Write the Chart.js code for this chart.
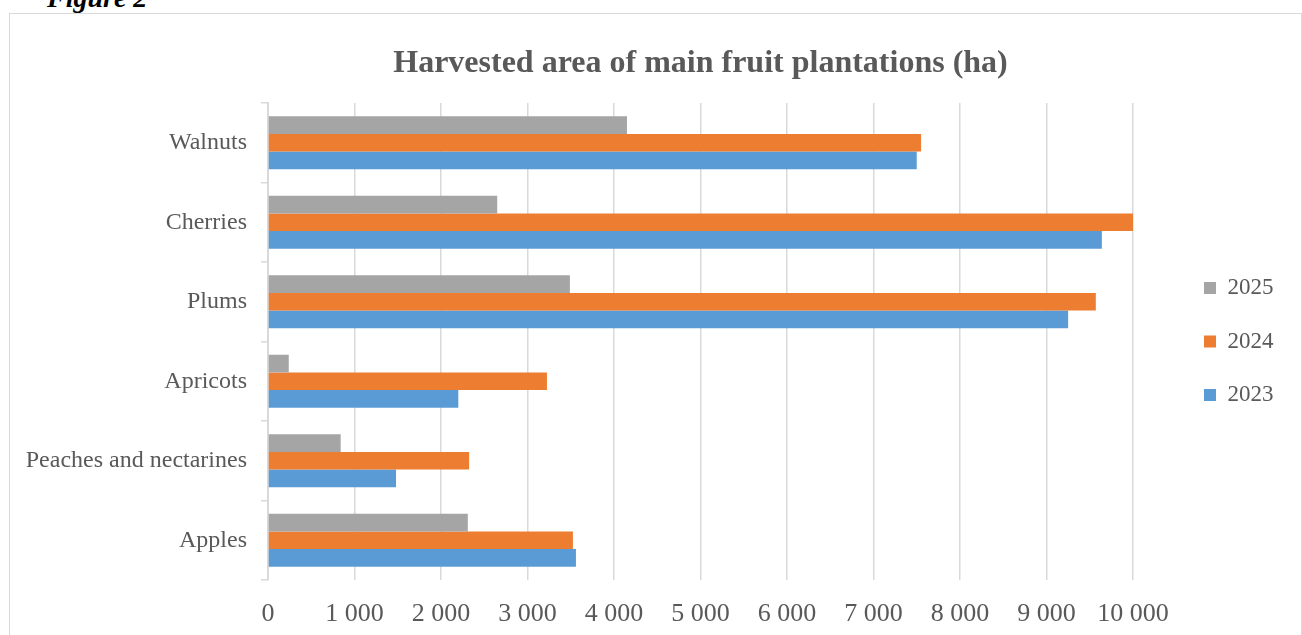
<!DOCTYPE html>
<html>
<head>
<meta charset="utf-8">
<title>Harvested area of main fruit plantations</title>
<script src="https://cdn.jsdelivr.net/npm/chart.js@4.4.1/dist/chart.umd.min.js"></script>
<style>
  html, body { margin: 0; padding: 0; background: #fff; overflow: hidden; }
  body { width: 1302px; height: 635px; position: relative; }
  .fig-label {
    position: absolute; left: 47px; top: -16px;
    font: italic bold 28px 'Liberation Serif', 'Times New Roman', serif;
    line-height: 28px; color: #000;
  }
  .frame {
    position: absolute; left: 9px; top: 13px; width: 1291px; height: 640px;
    border: 1px solid #d9d9d9;
  }
  .chart-box { position: absolute; left: 0; top: 0; width: 1291px; height: 621px; }
</style>
</head>
<body>
<div class="fig-label">Figure 2</div>
<div class="frame">
  <div class="chart-box"><canvas id="fruitChart"></canvas></div>
</div>
<script>
const categories = ['Walnuts', 'Cherries', 'Plums', 'Apricots', 'Peaches and nectarines', 'Apples'];
const years = ['2025', '2024', '2023'];
const area2025 = [4150, 2650, 3490, 240, 840, 2310];
const area2024 = [7550, 10020, 9570, 3225, 2325, 3525];
const area2023 = [7500, 9640, 9250, 2200, 1480, 3560];
const xTicks = [0, 1000, 2000, 3000, 4000, 5000, 6000, 7000, 8000, 9000, 10000];

const seriesValues = [area2025, area2024, area2023];
const seriesColors = ['#a5a5a5', '#ed7d31', '#5b9bd5'];
const textColor = '#595959';
const lineColor = '#d9d9d9';

function spaced(value) {
  return String(value).replace(/\B(?=(\d{3})+(?!\d))/g, ' ');
}

Chart.defaults.font.family = "'Liberation Serif', 'Times New Roman', serif";
Chart.defaults.color = textColor;

new Chart(document.getElementById('fruitChart'), {
  type: 'bar',
  data: {
    labels: categories,
    datasets: years.map(function (year, i) {
      return {
        label: year,
        data: seriesValues[i],
        backgroundColor: seriesColors[i],
        borderWidth: 0,
        yAxisID: 'y',
        categoryPercentage: 0.667,
        barPercentage: 1.0
      };
    })
  },
  options: {
    indexAxis: 'y',
    responsive: true,
    maintainAspectRatio: false,
    animation: false,
    layout: { padding: { left: 0, right: 17.5, top: 0, bottom: 0 } },
    plugins: {
      title: {
        display: true,
        text: 'Harvested area of main fruit plantations (ha)',
        color: textColor,
        fullSize: false,
        font: { size: 32, weight: 'bold' },
        padding: { top: 30.5, bottom: 20.1 }
      },
      legend: {
        position: 'right',
        fullSize: false,
        maxWidth: 110,
        labels: {
          color: textColor,
          font: { size: 23 },
          boxWidth: 12,
          boxHeight: 12,
          padding: 30.5
        }
      },
      tooltip: { enabled: false }
    },
    scales: {
      x: {
        min: 0,
        max: 10000,
        afterBuildTicks: function (scale) {
          scale.ticks = xTicks.map(function (v) { return { value: v }; });
        },
        afterFit: function (scale) { scale.height = 55; },
        grid: { color: lineColor, lineWidth: 1.5, drawTicks: false },
        border: { display: false },
        ticks: {
          padding: 19,
          color: textColor,
          font: { size: 26 },
          callback: function (value) { return spaced(value); }
        }
      },
      y: {
        afterFit: function (scale) { scale.width = 258; },
        grid: {
          color: lineColor,
          lineWidth: 1.5,
          drawOnChartArea: false,
          drawTicks: true,
          tickLength: 7
        },
        border: { display: true, color: lineColor, width: 2 },
        ticks: { padding: 14, color: textColor, font: { size: 24 } }
      },
      gap: {
        type: 'linear',
        axis: 'y',
        position: 'right',
        afterFit: function (scale) { scale.width = 40.5; },
        grid: { display: false },
        border: { display: false },
        ticks: { display: false }
      }
    }
  }
});
</script>
</body>
</html>
